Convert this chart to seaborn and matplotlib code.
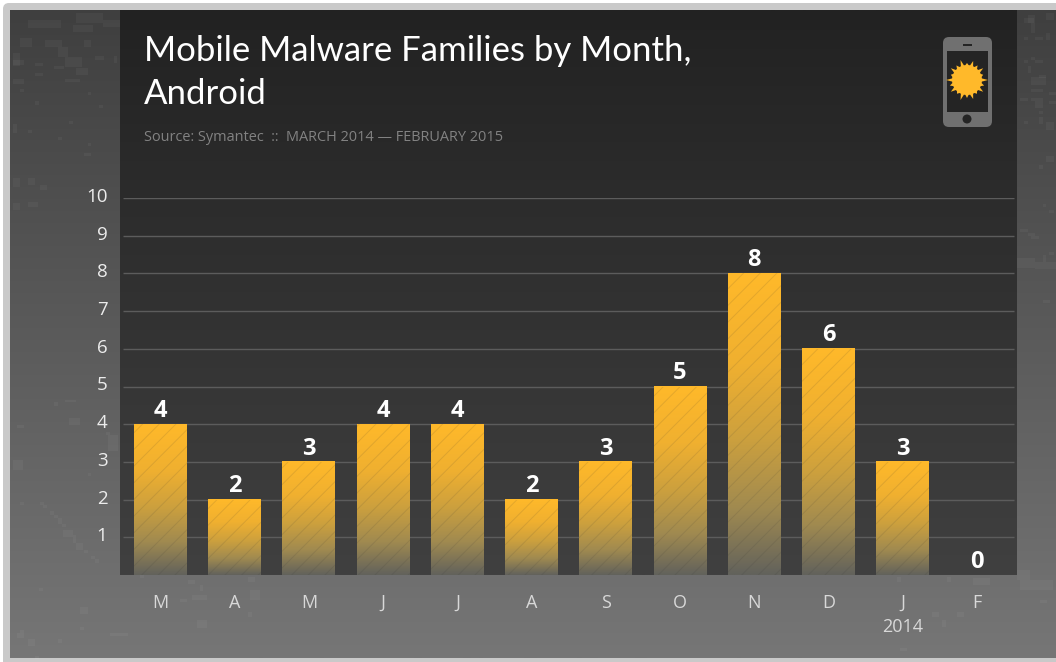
"""Mobile malware families by month, Android."""
import numpy as np
import pandas as pd
import matplotlib.pyplot as plt
import seaborn as sns
from matplotlib.colors import LinearSegmentedColormap
from matplotlib.patches import FancyBboxPatch, Rectangle, Circle, Polygon
from matplotlib.transforms import ScaledTranslation

W, H = 1056, 662

months = ["M", "A", "M", "J", "J", "A", "S", "O", "N", "D", "J\n2014", "F"]
families = [4, 2, 3, 4, 4, 2, 3, 5, 8, 6, 3, 0]
y_ticks = [1, 2, 3, 4, 5, 6, 7, 8, 9, 10]

title = "Mobile Malware Families by Month,\nAndroid"
source = "Source: Symantec  ::  MARCH 2014 — FEBRUARY 2015"

# faint map texture on the outer background: x, y, w, h in pixels
speckles = [
    (20, 38, 12, 9), (45, 40, 17, 7), (58, 47, 10, 10), (65, 57, 17, 10), (76, 68, 12, 7),
    (13, 53, 7, 13), (13, 60, 11, 5), (35, 63, 8, 3), (35, 73, 8, 3), (54, 66, 10, 3),
    (65, 79, 15, 3), (13, 79, 11, 5), (20, 89, 4, 3), (84, 40, 7, 7), (95, 56, 9, 4),
    (114, 56, 3, 7), (88, 92, 3, 3), (99, 105, 4, 3), (35, 101, 4, 4), (13, 124, 4, 9),
    (28, 130, 4, 3), (69, 121, 4, 3), (58, 137, 4, 3), (88, 143, 3, 3), (84, 153, 7, 3),
    (13, 178, 7, 9), (28, 178, 7, 7), (40, 185, 7, 5), (13, 203, 7, 7), (28, 202, 10, 5),
    (28, 20, 33, 8), (73, 25, 20, 7), (76, 13, 27, 10), (103, 20, 17, 7),
    (54, 402, 4, 4), (65, 400, 11, 2), (69, 418, 11, 7), (17, 425, 7, 3), (106, 432, 4, 3),
    (108, 435, 10, 16), (13, 460, 10, 10), (88, 473, 3, 3), (20, 502, 4, 3), (40, 502, 4, 3),
    (43, 505, 4, 3), (50, 511, 4, 4), (54, 515, 4, 3), (58, 518, 4, 6), (62, 524, 4, 3),
    (63, 530, 10, 7), (73, 535, 3, 8), (76, 543, 7, 7), (84, 550, 4, 3), (91, 556, 4, 3),
    (95, 559, 4, 4), (39, 588, 4, 3), (80, 607, 8, 7), (80, 627, 4, 3), (110, 633, 18, 3),
    (20, 630, 4, 3), (17, 633, 7, 5), (28, 639, 7, 7), (58, 639, 4, 4), (35, 656, 4, 3),
    (1028, 15, 7, 8), (1046, 13, 8, 7), (1024, 18, 10, 5), (1031, 23, 4, 10), (1035, 37, 8, 3),
    (1046, 33, 4, 7), (1024, 37, 4, 3), (1031, 57, 4, 3), (1024, 60, 4, 3), (1035, 60, 8, 3),
    (1028, 66, 3, 7), (1031, 77, 15, 8), (1039, 75, 7, 3), (1031, 89, 12, 3), (1020, 98, 8, 3),
    (1031, 98, 4, 3), (1035, 98, 8, 10), (1049, 92, 7, 3), (1049, 101, 7, 3), (1039, 111, 4, 3),
    (1039, 117, 4, 7), (1024, 121, 4, 3), (1046, 122, 8, 8), (1046, 156, 8, 6), (1039, 165, 4, 4),
    (1043, 204, 3, 3), (1049, 210, 5, 3), (1020, 229, 8, 3), (1028, 233, 7, 3), (1031, 236, 8, 3),
    (1017, 258, 18, 10), (1035, 262, 21, 7), (1043, 255, 3, 7), (1049, 252, 5, 3), (1043, 300, 7, 3),
    (897, 577, 4, 5), (947, 577, 4, 5), (973, 578, 17, 7), (957, 612, 7, 5), (932, 612, 7, 5),
    (942, 620, 4, 7), (1017, 570, 13, 10), (1020, 580, 33, 10), (1040, 600, 7, 3), (900, 648, 7, 3),
    (192, 595, 15, 5), (180, 599, 7, 3), (200, 585, 3, 6), (188, 580, 7, 4), (140, 575, 4, 3),
    (197, 620, 10, 8), (248, 577, 7, 5), (250, 590, 10, 10), (248, 612, 4, 5),
]

df = pd.DataFrame({"slot": range(len(months)), "families": families})

plt.rcParams["font.family"] = ["Open Sans", "DejaVu Sans"]
plt.rcParams["hatch.linewidth"] = 0.7

fig = plt.figure(figsize=(W / 100, H / 100), dpi=100, facecolor="white")

# backdrop in pixel coordinates
bg = fig.add_axes([0, 0, 1, 1])
bg.axis("off")
bg.add_patch(FancyBboxPatch((3, 3), W + 20, H + 20, boxstyle="round,pad=0,rounding_size=6",
                            fc="#c9c9c9", ec="none"))
outer = LinearSegmentedColormap.from_list("outer", ["#3f3f3f", "#767676"])
panel = LinearSegmentedColormap.from_list("panel", ["#222222", "#404040"])
ramp = np.linspace(0, 1, 256).reshape(-1, 1)
bg.imshow(ramp, extent=[10, W, 658, 10], origin="upper", cmap=outer, aspect="auto", zorder=1)
for sx, sy, sw, sh in speckles:
    bg.add_patch(Rectangle((sx, sy), sw, sh, fc="white", alpha=0.04, ec="none", zorder=2))
bg.imshow(ramp, extent=[120, 1017, 575, 10], origin="upper", cmap=panel, aspect="auto", zorder=3)
bg.set_xlim(0, W)
bg.set_ylim(H, 0)

# phone icon with the sun
bg.add_patch(FancyBboxPatch((943, 37), 49, 90, boxstyle="round,pad=0,rounding_size=6",
                            fc="#707070", ec="none", zorder=4))
bg.add_patch(Rectangle((947, 51), 41, 61, fc="#242424", ec="none", zorder=5))
bg.add_patch(Rectangle((963, 44), 9, 1.6, fc="#242424", ec="none", zorder=5))
bg.add_patch(Circle((967, 119), 4.5, fc="#242424", ec="none", zorder=5))
ray_len = np.array([21, 15, 15, 18, 15, 15, 20, 15, 15, 17, 15, 15, 20, 15, 15, 18, 15, 15, 21, 15,
                    15, 17, 15, 15, 20, 15, 15, 18, 15, 15, 21, 15, 15, 17, 15, 15, 20, 15, 15, 18,
                    15, 15, 21, 15, 15, 17, 15, 15, 20, 15, 15, 18, 15, 15, 20, 15, 15, 17, 15, 15])
ang = np.linspace(0, 2 * np.pi, len(ray_len), endpoint=False)
sun = np.column_stack([967 + ray_len * np.cos(ang), 80 + ray_len * np.sin(ang)])
bg.add_patch(Polygon(sun, closed=True, fc="#ffb92a", ec="none", zorder=6))

# chart
ax = fig.add_axes([120 / W, 1 - 575 / H, 897 / W, 377 / H])
ax.patch.set_alpha(0)
sns.barplot(data=df, x="slot", y="families", ax=ax, color="#ffb92a", saturation=1, width=0.714, zorder=3)

bar_fade = LinearSegmentedColormap.from_list(
    "bar_fade",
    [(0, "#ffb92a"), (0.3, "#f0b030"), (0.55, "#cca03e"), (0.78, "#a08a50"), (1, "#62625c")],
)
for bar in ax.patches:
    x0, x1 = bar.get_x(), bar.get_x() + bar.get_width()
    top = bar.get_height()
    if top > 0:
        ax.imshow(ramp, extent=[x0, x1, 0, top], origin="upper", cmap=bar_fade, aspect="auto", zorder=3)
    bar.set_facecolor("none")
    bar.set_edgecolor((0.2, 0.2, 0.2, 0.12))
    bar.set_linewidth(0)
    bar.set_hatch("//")
    bar.set_zorder(4)

ax.bar_label(ax.containers[0], labels=[str(v) for v in families], padding=1, color="white",
             fontsize=17, fontweight="bold", zorder=5)

ax.set_xlim(-0.546, 11.54)
ax.set_ylim(0, 10)
ax.set_xlabel("")
ax.set_ylabel("")
ax.hlines(y_ticks, 0.003, 0.997, transform=ax.get_yaxis_transform(), color="#5c5c5c", lw=1, zorder=1)
sns.despine(ax=ax, left=True, bottom=True)

ax.set_xticks(range(len(months)))
ax.set_xticklabels(months, color="#d8d8d8", fontsize=13, linespacing=1.45)
ax.set_yticks(y_ticks)
ax.set_yticklabels(y_ticks, color="#ececec", fontsize=13.5)
ax.tick_params(axis="x", length=0, pad=13.5)
ax.tick_params(axis="y", length=0, pad=9)
shift = ScaledTranslation(0, 3 / 100, fig.dpi_scale_trans)
for lab in ax.get_yticklabels():
    lab.set_transform(lab.get_transform() + shift)

fig.text(144 / W, 1 - 104 / H, title, color="white", fontsize=25, family=["Lato", "DejaVu Sans"],
         linespacing=1.42, va="baseline")
fig.text(144 / W, 1 - 141 / H, source, color="#828282", fontsize=10.45, va="baseline")

fig.savefig("out.png", dpi=100)
